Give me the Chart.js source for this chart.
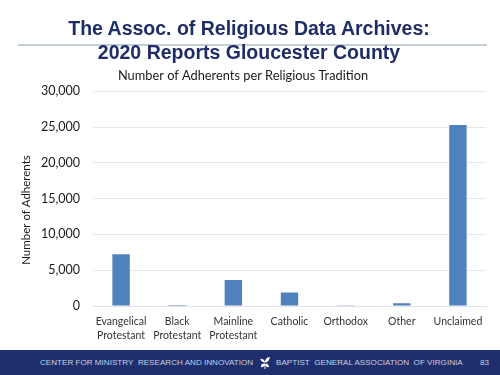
<!DOCTYPE html>
<html>
<head>
<meta charset="utf-8">
<script src="https://cdn.jsdelivr.net/npm/chart.js@4/dist/chart.umd.min.js"></script>
<style>
  html, body { margin: 0; padding: 0; background: #fff; }
  #slide { position: relative; width: 500px; height: 375px; overflow: hidden; }
  #heading {
    position: absolute; left: 0; top: 16px; width: 498px; text-align: center;
    font: bold 19.5px/24px "Liberation Sans", sans-serif; color: #1f2d66;
  }
  #rule { position: absolute; left: 18px; top: 44px; width: 469px; height: 2px; background: #c3cfd6; }
  #chart0 { position: absolute; left: 0; top: 0; }
  #band {
    position: absolute; left: 0; top: 350px; width: 500px; height: 25px; background: #1f2f6e;
    font: 8.1px/25px "Liberation Sans", sans-serif; color: #c9d0e2; white-space: nowrap;
  }
  #band span, #band svg { position: absolute; }
</style>
</head>
<body>
<div id="slide">
  <canvas id="chart0" width="500" height="350"></canvas>
  <div id="rule"></div>
  <div id="heading">The Assoc. of Religious Data Archives:<br>2020 Reports Gloucester County</div>
  <div id="band">
    <span style="left:40px">CENTER FOR MINISTRY&nbsp; RESEARCH AND INNOVATION</span>
    <svg style="left:259px;top:6px" width="12" height="14" viewBox="0 0 12 15">
      <path d="M6 7 C3 7 1 5 1 3 C3 3 6 4 6 7 M6 7 C6 4 8 1 11 1 C11 4 9 7 6 7 M6 8 C3 8 1 9 2 12 C4 12 6 11 6 8 M6 8 C9 8 11 10 10 12 C8 12 6 11 6 8 M5.5 8 L5.5 14 L6.5 14 L6.5 8" fill="#fff"/>
    </svg>
    <span style="left:276px">BAPTIST&nbsp; GENERAL ASSOCIATION&nbsp; OF VIRGINIA</span>
    <span style="left:480px">83</span>
  </div>
</div>
<script>
const categories = [["Evangelical", "Protestant"], ["Black", "Protestant"], ["Mainline", "Protestant"], "Catholic", "Orthodox", "Other", "Unclaimed"];
const adherents = [7250, 150, 3650, 1900, 20, 400, 25300];
const yTicks = [0, 5000, 10000, 15000, 20000, 25000, 30000];
const yTitle = "Number of Adherents";

// the axis title sits lower than chart.js would center it, so draw it here
const yTitlePlugin = {
  id: "yTitle",
  afterDraw(chart) {
    const c = chart.ctx;
    c.save();
    c.translate(26, 210);
    c.rotate(-Math.PI / 2);
    c.font = "11.5px Lato";
    c.fillStyle = "#1a1a1a";
    c.textAlign = "center";
    c.textBaseline = "middle";
    c.fillText(yTitle, 0, 0);
    c.restore();
  },
};

const ctx = document.getElementById("chart0").getContext("2d");

const myChart = new Chart(ctx, {
  type: "bar",
  data: {
    labels: categories,
    datasets: [
      {
        label: "Adherents",
        data: adherents,
        backgroundColor: "#4f81bd",
        barPercentage: 0.31,
        categoryPercentage: 1,
      },
    ],
  },
  plugins: [yTitlePlugin],
  options: {
    responsive: false,
    animation: false,
    layout: { padding: { top: 0, right: 14, bottom: 0, left: 0 } },
    plugins: {
      legend: { display: false },
      tooltip: { enabled: false },
      title: {
        display: true,
        text: "Number of Adherents per Religious Tradition",
        color: "#1a1a1a",
        font: { family: "Lato", size: 12.8, weight: "normal" },
        padding: { top: 68, bottom: 8 },
      },
    },
    scales: {
      x: {
        grid: { display: false },
        border: { color: "#dfe3e8" },
        ticks: {
          color: "#333",
          font: { family: "Lato", size: 10.5, lineHeight: 1.3 },
          maxRotation: 0,
          autoSkip: false,
          padding: 1,
        },
        afterFit: (axis) => { axis.height = 44; },
      },
      y: {
        min: 0,
        max: 30000,
        afterBuildTicks: (axis) => { axis.ticks = yTicks.map((v) => ({ value: v })); },
        afterFit: (axis) => { axis.width = 93; },
        grid: { color: "#e6e8ec", drawTicks: false },
        border: { display: false },
        ticks: {
          color: "#1a1a1a",
          font: { family: "Lato", size: 12.5 },
          padding: 13,
          callback: (v) => v.toLocaleString("en-US"),
        },
      },
    },
  },
});
</script>
</body>
</html>
